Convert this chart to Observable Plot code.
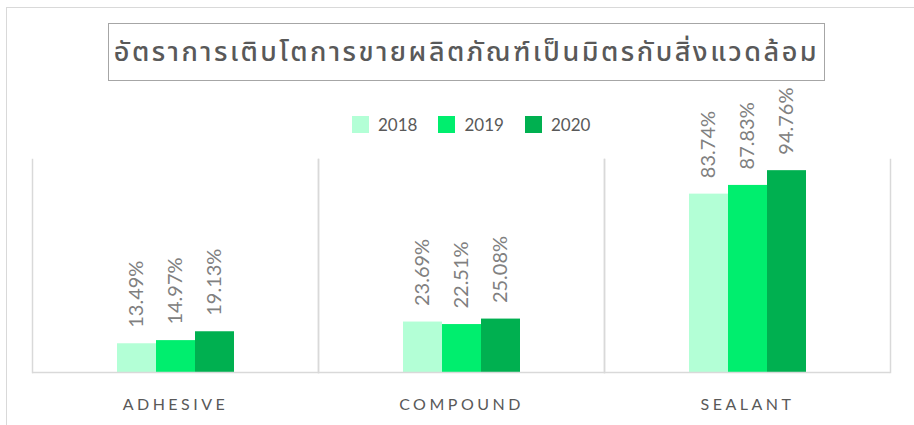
<!DOCTYPE html>
<html><head><meta charset="utf-8">
<script src="https://cdn.jsdelivr.net/npm/d3@7"></script>
<script src="https://cdn.jsdelivr.net/npm/@observablehq/plot@0.6"></script>
<style>
html,body{margin:0;padding:0;background:#fff;overflow:hidden;width:914px;height:425px}
#wrap{position:relative;width:914px;height:425px;overflow:hidden}
#border{position:absolute;left:6px;top:7px;width:1000px;height:1000px;border-left:1px solid #d9d9d9;border-top:1px solid #d9d9d9}
#title{position:absolute;left:108px;top:23px;width:717px;height:58px;border:1px solid #a6a6a6;box-sizing:border-box;display:flex;align-items:center;justify-content:center;font-family:"Noto Sans Thai","Noto Sans Thai UI","Noto Sans",sans-serif;font-weight:500;font-size:27px;color:#595959;letter-spacing:2.5px;white-space:nowrap}
#legend{position:absolute;top:114px;left:352px;display:flex;align-items:center;font-family:Lato,sans-serif;font-size:17px;color:#595959}
.item{display:flex;align-items:center;margin-right:21px}
.sw{width:17px;height:17px;margin-right:9px}
#chart{position:absolute;left:0;top:140px}
#chart g[aria-label^="fx-axis"] text{letter-spacing:3.5px}
</style></head>
<body><div id="wrap"><div id="border"></div><div id="title"></div><div id="legend"></div><div id="chart"></div></div>
<script>
const titleText = "อัตราการเติบโตการขายผลิตภัณฑ์เป็นมิตรกับสิ่งแวดล้อม";
const categories = ["ADHESIVE", "COMPOUND", "SEALANT"];
const years = ["2018", "2019", "2020"];
const v2018 = [13.49, 23.69, 83.74];
const v2019 = [14.97, 22.51, 87.83];
const v2020 = [19.13, 25.08, 94.76];
const colors = ["#b3ffd6", "#00ee6e", "#00b050"];

const series = [v2018, v2019, v2020];
const data = categories.flatMap((c, i) => years.map((y, j) => ({category: c, year: y, value: series[j][i]})));

document.getElementById("title").textContent = titleText;
const legend = document.getElementById("legend");
years.forEach((y, j) => {
  const it = document.createElement("div"); it.className = "item";
  const sw = document.createElement("div"); sw.className = "sw"; sw.style.background = colors[j];
  const t = document.createElement("span"); t.textContent = y;
  it.appendChild(sw); it.appendChild(t); legend.appendChild(it);
});

const chart = Plot.plot({
  width: 914, height: 285,
  marginLeft: 32, marginRight: 24, marginTop: 19, marginBottom: 53,
  style: {fontFamily: "Lato, sans-serif", fontSize: "16px", color: "#595959", background: "transparent", overflow: "visible"},
  facet: {data, x: "category"},
  fx: {domain: categories, paddingInner: 0, paddingOuter: 0, label: null, tickSize: 0, tickPadding: 26, axis: "bottom"},
  x: {domain: years, paddingInner: 0, paddingOuter: 2.1, axis: null},
  y: {domain: [0, 100], axis: null},
  color: {domain: years, range: colors},
  marks: [
    Plot.frame({anchor: "left", stroke: "#d9d9d9", strokeWidth: 1.5}),
    Plot.frame({anchor: "right", stroke: "#d9d9d9", strokeWidth: 1.5}),
    Plot.barY(data, {x: "year", y: "value", fill: "year"}),
    Plot.ruleY([0], {stroke: "#d9d9d9", strokeWidth: 1.5}),
    Plot.text(data, {x: "year", y: "value", text: d => d.value.toFixed(2) + "%", rotate: -90, textAnchor: "start", lineAnchor: "middle", dy: -16, fontSize: 20, fill: "#808080"})
  ]
});
document.getElementById("chart").appendChild(chart);
</script></body></html>
